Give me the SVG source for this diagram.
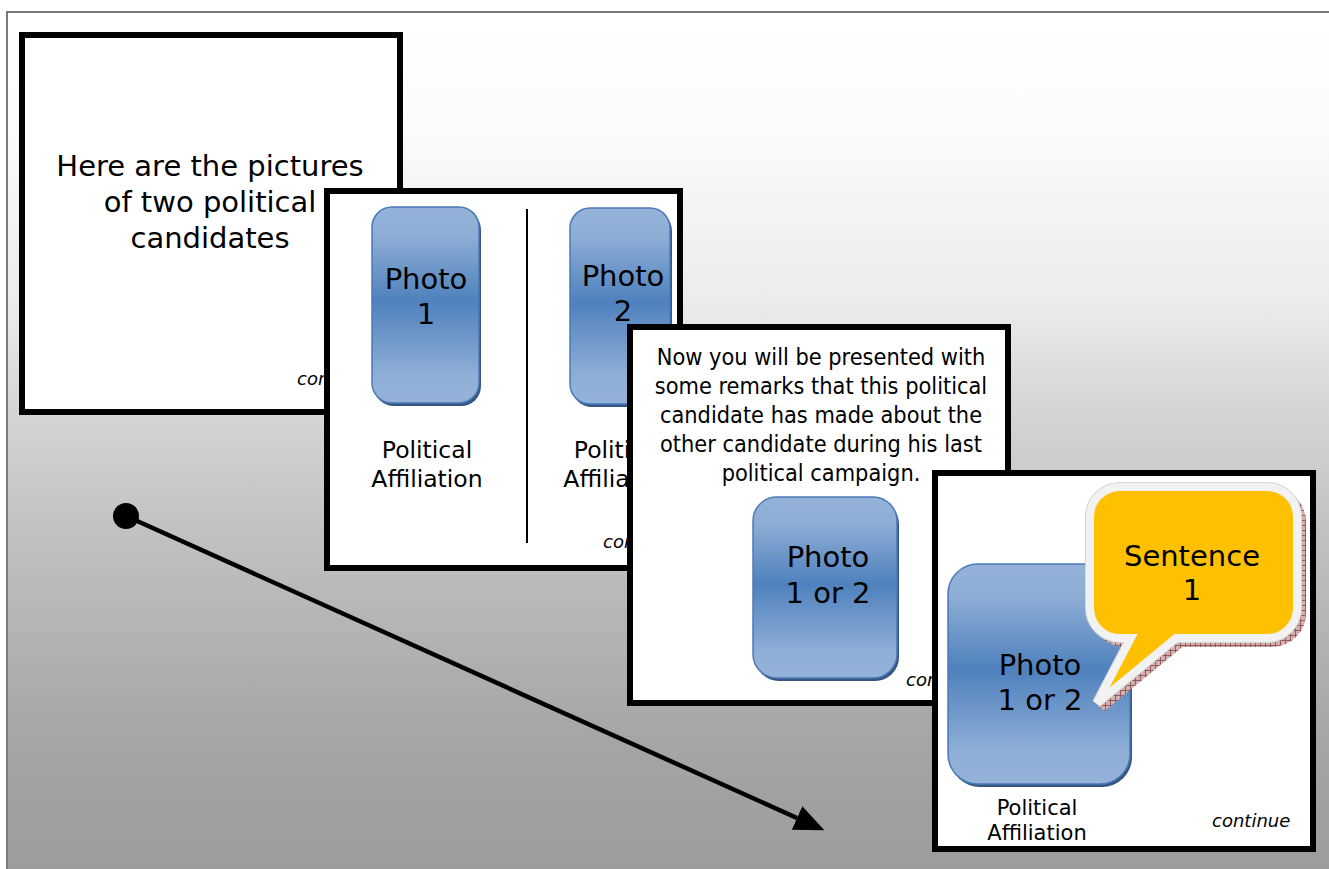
<svg xmlns="http://www.w3.org/2000/svg" width="1329" height="869" viewBox="0 0 1329 869">
  <defs>
    <linearGradient id="bg" x1="0" y1="13" x2="0" y2="869" gradientUnits="userSpaceOnUse">
      <stop offset="0" stop-color="#ffffff"/>
      <stop offset="0.12" stop-color="#fcfcfc"/>
      <stop offset="0.34" stop-color="#ebebeb"/>
      <stop offset="0.46" stop-color="#d6d6d6"/>
      <stop offset="0.6" stop-color="#c2c2c2"/>
      <stop offset="0.84" stop-color="#a6a6a6"/>
      <stop offset="1" stop-color="#9c9c9c"/>
    </linearGradient>
    <linearGradient id="photo" x1="0" y1="0" x2="0" y2="1">
      <stop offset="0" stop-color="#95b3d9"/>
      <stop offset="0.15" stop-color="#8dadd5"/>
      <stop offset="0.48" stop-color="#4f81bd"/>
      <stop offset="0.85" stop-color="#8eaed6"/>
      <stop offset="1" stop-color="#95b3d9"/>
    </linearGradient>
    <pattern id="hatch" width="5" height="5" patternUnits="userSpaceOnUse">
      <rect width="5" height="5" fill="#d4b0b0"/>
      <path d="M0,0.5 H5 M0.5,0 V5" stroke="#874848" stroke-width="0.8"/>
    </pattern>
    <marker id="head" markerUnits="userSpaceOnUse" markerWidth="30" markerHeight="26" viewBox="0 -13 30 26" refX="0" refY="0" orient="auto">
      <path d="M0,-13 L30,0 L0,13 Z" fill="#000"/>
    </marker>
    <clipPath id="clip2"><rect x="330" y="194" width="347" height="371"/></clipPath>
  </defs>
  <style>
    .slide { fill: #ffffff; stroke: #000000; stroke-width: 6; }
    .photo { fill: url(#photo); stroke: #4a7ab8; stroke-width: 1.5; }
    .pshadow { fill: #34567f; }
    .t { font-family: "DejaVu Sans", Verdana, sans-serif; fill: #000; text-anchor: middle; }
    .tc { font-family: "DejaVu Sans Condensed", "DejaVu Sans", sans-serif; fill: #000; text-anchor: middle; }
    .cont { font-family: "DejaVu Sans", Verdana, sans-serif; font-style: italic; font-size: 18px; fill: #000; }
  </style>

  <!-- backdrop panel -->
  <rect x="7" y="12" width="1330" height="870" fill="url(#bg)" stroke="#7a7a7a" stroke-width="2"/>

  <!-- slide 1: intro text -->
  <g id="slide-intro">
    <rect class="slide" x="22" y="35" width="378" height="377"/>
    <text class="t" font-size="29"><tspan x="210" y="176">Here are the pictures</tspan><tspan x="210" y="212">of two political</tspan><tspan x="210" y="248">candidates</tspan></text>
    <text class="cont" x="297" y="385">continue</text>
  </g>

  <!-- slide 2: both candidates -->
  <g id="slide-candidates">
    <rect class="slide" x="327" y="191" width="353" height="377"/>
    <g clip-path="url(#clip2)">
      <rect class="pshadow" x="374" y="210" width="107" height="196" rx="20"/>
      <rect class="photo" x="372" y="207" width="107" height="196" rx="20"/>
      <text class="t" font-size="29"><tspan x="426" y="289">Photo</tspan><tspan x="426" y="324">1</tspan></text>
      <line x1="527" y1="209" x2="527" y2="543" stroke="#000" stroke-width="2"/>
      <rect class="pshadow" x="572" y="211" width="100" height="196" rx="20"/>
      <rect class="photo" x="570" y="208" width="100" height="196" rx="20"/>
      <text class="t" font-size="29"><tspan x="623" y="286">Photo</tspan><tspan x="623" y="321">2</tspan></text>
      <text class="t" font-size="23.5"><tspan x="427" y="458">Political</tspan><tspan x="427" y="487">Affiliation</tspan></text>
      <text class="t" font-size="23.5"><tspan x="619" y="458">Political</tspan><tspan x="619" y="487">Affiliation</tspan></text>
      <text class="cont" x="603" y="548">continue</text>
    </g>
  </g>

  <!-- slide 3: instructions -->
  <g id="slide-instructions">
    <rect class="slide" x="630" y="327" width="378" height="376"/>
    <text class="tc" font-size="23.3"><tspan x="821" y="365">Now you will be presented with</tspan><tspan x="821" y="394">some remarks that this political</tspan><tspan x="821" y="423">candidate has made about the</tspan><tspan x="821" y="452">other candidate during his last</tspan><tspan x="821" y="481">political campaign.</tspan></text>
    <rect class="pshadow" x="755" y="500" width="144" height="181" rx="24"/>
    <rect class="photo" x="753" y="497" width="144" height="181" rx="24"/>
    <text class="t" font-size="29"><tspan x="828" y="567">Photo</tspan><tspan x="828" y="603">1 or 2</tspan></text>
    <text class="cont" x="906" y="686">continue</text>
  </g>

  <!-- slide 4: candidate with sentence bubble -->
  <g id="slide-sentence">
    <rect class="slide" x="935" y="473" width="378" height="376"/>
    <rect class="pshadow" x="950" y="567" width="182" height="220" rx="30"/>
    <rect class="photo" x="948" y="564" width="182" height="220" rx="30"/>
    <text class="t" font-size="29"><tspan x="1040" y="675">Photo</tspan><tspan x="1040" y="710">1 or 2</tspan></text>
    <text class="t" font-size="21"><tspan x="1037" y="815">Political</tspan><tspan x="1037" y="840">Affiliation</tspan></text>
    <text class="cont" x="1212" y="827">continue</text>
  </g>

  <!-- speech bubble -->
  <g id="bubble">
    <path transform="translate(5,5)" d="M1120,487 H1267 A30,30 0 0 1 1297,517 V608 A30,30 0 0 1 1267,638 H1176 L1097,703 L1131,638 H1120 A30,30 0 0 1 1090,608 V517 A30,30 0 0 1 1120,487 Z" fill="url(#hatch)" stroke="url(#hatch)" stroke-width="8"/>
    <path d="M1120,487 H1267 A30,30 0 0 1 1297,517 V608 A30,30 0 0 1 1267,638 H1176 L1097,703 L1131,638 H1120 A30,30 0 0 1 1090,608 V517 A30,30 0 0 1 1120,487 Z" fill="none" stroke="#d6d6d6" stroke-width="10"/>
    <path d="M1120,487 H1267 A30,30 0 0 1 1297,517 V608 A30,30 0 0 1 1267,638 H1176 L1097,703 L1131,638 H1120 A30,30 0 0 1 1090,608 V517 A30,30 0 0 1 1120,487 Z" fill="#ffc000" stroke="#f2f2f2" stroke-width="8"/>
    <text class="t" font-size="29"><tspan x="1192" y="566">Sentence</tspan><tspan x="1192" y="600">1</tspan></text>
  </g>

  <!-- sequence arrow -->
  <g id="connectors">
    <line x1="126" y1="516" x2="797" y2="818" stroke="#000" stroke-width="4.5" marker-end="url(#head)"/>
    <circle cx="126" cy="516" r="13" fill="#000"/>
  </g>
</svg>
